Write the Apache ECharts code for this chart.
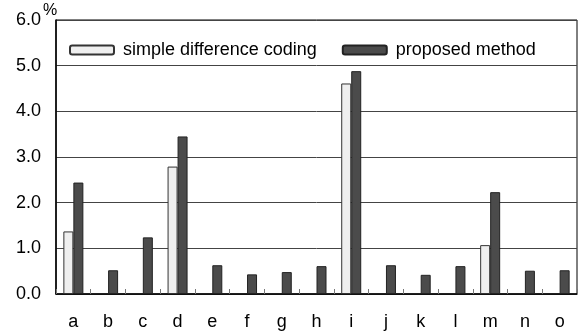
<!DOCTYPE html>
<html>
<head>
<meta charset="utf-8">
<script src="https://cdn.jsdelivr.net/npm/echarts@6/dist/echarts.min.js"></script>
<style>
  html, body { margin: 0; padding: 0; background: #fff; }
  #chart { width: 579px; height: 335px; }
</style>
</head>
<body>
<div id="chart"></div>
<script>
// Category labels along the x axis
const categories = ['a', 'b', 'c', 'd', 'e', 'f', 'g', 'h', 'i', 'j', 'k', 'l', 'm', 'n', 'o'];
// Series values (%); '-' where no bar is drawn
const simpleDiff = [1.37, '-', '-', 2.79, '-', '-', '-', '-', 4.61, '-', '-', '-', 1.07, '-', '-'];
const proposed = [2.44, 0.52, 1.24, 3.45, 0.63, 0.43, 0.48, 0.61, 4.88, 0.63, 0.42, 0.61, 2.23, 0.51, 0.52];
// Y axis range
const yMin = 0, yMax = 6, yStep = 1;

const font = 'Liberation Sans, Arial, sans-serif';
const chart = echarts.init(document.getElementById('chart'), null, { renderer: 'canvas' });

chart.setOption({
  animation: false,
  backgroundColor: '#fff',
  grid: {
    left: 56, right: 2, top: 20, bottom: 41,
    show: true, borderColor: '#000', borderWidth: 1
  },
  legend: {
    left: 64, top: 36,
    itemWidth: 44, itemHeight: 9, itemGap: 25,
    textStyle: { fontFamily: font, fontSize: 18, color: '#000', padding: [0, 0, 0, 4] },
    data: ['simple difference coding', 'proposed method']
  },
  xAxis: {
    type: 'category',
    data: categories,
    boundaryGap: true,
    axisLine: { lineStyle: { color: '#000', width: 1.5 } },
    axisTick: { show: true, inside: true, length: 5, lineStyle: { color: '#777' } },
    axisLabel: { fontFamily: font, fontSize: 18, color: '#000', margin: 19 }
  },
  yAxis: {
    type: 'value',
    min: yMin, max: yMax, interval: yStep,
    name: '%',
    nameLocation: 'end',
    nameGap: 1,
    nameMoveOverlap: false,
    nameTextStyle: {
      fontFamily: font, fontSize: 16, color: '#000', padding: [0, 12, 0, 0]
    },
    axisLine: { show: true, lineStyle: { color: '#000', width: 1.5 } },
    axisTick: { show: false },
    splitLine: { lineStyle: { color: '#444', width: 1 } },
    axisLabel: {
      fontFamily: font, fontSize: 18, color: '#000', margin: 15,
      formatter: v => v.toFixed(1)
    }
  },
  series: [
    {
      name: 'simple difference coding',
      type: 'bar',
      data: simpleDiff,
      barWidth: 10,
      barGap: '0%',
      itemStyle: { color: '#efefef', borderColor: '#333', borderWidth: 1 }
    },
    {
      name: 'proposed method',
      type: 'bar',
      data: proposed,
      barWidth: 10,
      barGap: '0%',
      itemStyle: { color: '#4b4b4b', borderColor: '#222', borderWidth: 1 }
    }
  ]
});
</script>
</body>
</html>
